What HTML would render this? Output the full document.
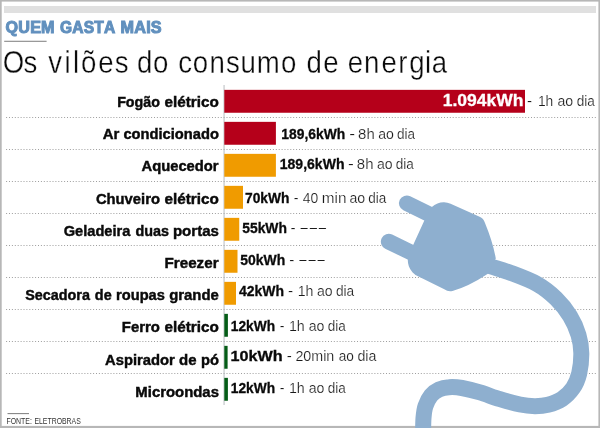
<!DOCTYPE html>
<html lang="pt-BR">
<head>
<meta charset="utf-8">
<title>Quem gasta mais - Os vilões do consumo de energia</title>
<style>
html,body{margin:0;padding:0;background:#fff;}
body{width:600px;height:428px;overflow:hidden;}
svg{display:block;}
text{font-family:"Liberation Sans",sans-serif;font-kerning:none;}
.kick{font-weight:bold;font-size:15.6px;letter-spacing:0.2px;fill:#6190be;stroke:#6190be;stroke-width:1px;}
.title{font-size:31.7px;fill:#0a0a0a;stroke:#fff;stroke-width:0.35px;}
.lab{font-weight:bold;font-size:15.5px;fill:#0a0a0a;stroke:#0a0a0a;stroke-width:0.45px;}
.val{font-weight:bold;font-size:14.1px;fill:#0a0a0a;stroke:#0a0a0a;stroke-width:0.3px;}
.big{font-weight:bold;font-size:16.5px;fill:#fff;stroke:#fff;stroke-width:0.3px;}
.rest{font-size:14.6px;fill:#1a1a1a;stroke:#fff;stroke-width:0.2px;}
.src{font-size:8.8px;fill:#333;}
</style>
</head>
<body>
<svg width="600" height="428" viewBox="0 0 600 428">
<rect x="0" y="0" width="600" height="428" fill="#b7b7b7"/>
<rect x="1.7" y="1.6" width="596.7" height="424.3" fill="#ffffff"/>
<rect x="4" y="6" width="592" height="7" fill="#e0e0e0"/>
<text class="kick" y="32.80"><tspan x="5.54" textLength="49.25" lengthAdjust="spacingAndGlyphs">QUEM</tspan> <tspan x="60.06" textLength="55.45" lengthAdjust="spacingAndGlyphs">GASTA</tspan> <tspan x="120.62" textLength="41.22" lengthAdjust="spacingAndGlyphs">MAIS</tspan></text>
<rect x="4.2" y="40.8" width="42.4" height="0.9" fill="#6e6e6e"/>
<text class="title" transform="translate(0,72.90) scale(0.87,1)" x="3.11 27.12 42.97 55.49 74.13 83.97 93.20 113.00 131.78 147.63 157.40 175.81 193.44 204.89 221.64 240.93 259.88 276.55 295.18 323.08 340.71 352.17 371.47 389.10 399.78 418.37 438.54 457.67 470.33 488.61 496.26" y="0">Os vilões do consumo de energia</text>
<line x1="6.1" y1="117.5" x2="596" y2="117.5" stroke="#9e9e9e" stroke-width="1" stroke-dasharray="1 1.9"/>
<line x1="6.1" y1="149.5" x2="596" y2="149.5" stroke="#9e9e9e" stroke-width="1" stroke-dasharray="1 1.9"/>
<line x1="6.1" y1="181.5" x2="596" y2="181.5" stroke="#9e9e9e" stroke-width="1" stroke-dasharray="1 1.9"/>
<line x1="6.1" y1="213.5" x2="596" y2="213.5" stroke="#9e9e9e" stroke-width="1" stroke-dasharray="1 1.9"/>
<line x1="6.1" y1="245.5" x2="596" y2="245.5" stroke="#9e9e9e" stroke-width="1" stroke-dasharray="1 1.9"/>
<line x1="6.1" y1="277.5" x2="596" y2="277.5" stroke="#9e9e9e" stroke-width="1" stroke-dasharray="1 1.9"/>
<line x1="6.1" y1="309.5" x2="596" y2="309.5" stroke="#9e9e9e" stroke-width="1" stroke-dasharray="1 1.9"/>
<line x1="6.1" y1="341.5" x2="596" y2="341.5" stroke="#9e9e9e" stroke-width="1" stroke-dasharray="1 1.9"/>
<line x1="6.1" y1="373.5" x2="596" y2="373.5" stroke="#9e9e9e" stroke-width="1" stroke-dasharray="1 1.9"/>
<rect x="223.6" y="85" width="0.9" height="320" fill="#b0b3b8"/>
<rect x="224.3" y="89.85" width="300.70" height="22.9" fill="#b5001a"/>
<text class="lab" y="107.00"><tspan x="117.17" textLength="42.76" lengthAdjust="spacingAndGlyphs">Fogão</tspan> <tspan x="164.53" textLength="54.39" lengthAdjust="spacingAndGlyphs">elétrico</tspan></text>
<text class="big" y="106.20"><tspan x="442.65" textLength="80.89" lengthAdjust="spacingAndGlyphs">1.094kWh</tspan></text>
<text class="rest" y="106.20"><tspan x="527.03" textLength="5.05" lengthAdjust="spacingAndGlyphs">-</tspan> <tspan x="537.95" textLength="15.35" lengthAdjust="spacingAndGlyphs">1h</tspan> <tspan x="557.40" textLength="15.69" lengthAdjust="spacingAndGlyphs">ao</tspan> <tspan x="576.73" textLength="18.17" lengthAdjust="spacingAndGlyphs">dia</tspan></text>
<rect x="224.3" y="121.85" width="51.60" height="22.9" fill="#b5001a"/>
<text class="lab" y="139.00"><tspan x="102.65" textLength="16.65" lengthAdjust="spacingAndGlyphs">Ar</tspan> <tspan x="123.45" textLength="95.45" lengthAdjust="spacingAndGlyphs">condicionado</tspan></text>
<text class="val" y="138.75"><tspan x="281.28" textLength="63.93" lengthAdjust="spacingAndGlyphs">189,6kWh</tspan></text>
<text class="rest" y="138.75"><tspan x="349.23" textLength="5.80" lengthAdjust="spacingAndGlyphs">-</tspan> <tspan x="358.10" textLength="16.62" lengthAdjust="spacingAndGlyphs">8h</tspan> <tspan x="378.15" textLength="15.69" lengthAdjust="spacingAndGlyphs">ao</tspan> <tspan x="396.93" textLength="18.07" lengthAdjust="spacingAndGlyphs">dia</tspan></text>
<rect x="224.3" y="153.85" width="51.60" height="22.9" fill="#f09b00"/>
<text class="lab" y="171.00"><tspan x="141.56" textLength="76.99" lengthAdjust="spacingAndGlyphs">Aquecedor</tspan></text>
<text class="val" y="168.75"><tspan x="279.77" textLength="64.70" lengthAdjust="spacingAndGlyphs">189,6kWh</tspan></text>
<text class="rest" y="168.75"><tspan x="347.98" textLength="5.80" lengthAdjust="spacingAndGlyphs">-</tspan> <tspan x="356.85" textLength="16.62" lengthAdjust="spacingAndGlyphs">8h</tspan> <tspan x="376.90" textLength="15.69" lengthAdjust="spacingAndGlyphs">ao</tspan> <tspan x="395.68" textLength="18.07" lengthAdjust="spacingAndGlyphs">dia</tspan></text>
<rect x="224.3" y="185.85" width="18.70" height="22.9" fill="#f09b00"/>
<text class="lab" y="204.00"><tspan x="95.92" textLength="64.03" lengthAdjust="spacingAndGlyphs">Chuveiro</tspan> <tspan x="164.53" textLength="54.39" lengthAdjust="spacingAndGlyphs">elétrico</tspan></text>
<text class="val" y="202.75"><tspan x="245.06" textLength="44.40" lengthAdjust="spacingAndGlyphs">70kWh</tspan></text>
<text class="rest" y="202.75"><tspan x="293.86" textLength="4.77" lengthAdjust="spacingAndGlyphs">-</tspan> <tspan x="302.68" textLength="15.46" lengthAdjust="spacingAndGlyphs">40</tspan> <tspan x="321.79" textLength="24.61" lengthAdjust="spacingAndGlyphs">min</tspan> <tspan x="349.40" textLength="15.69" lengthAdjust="spacingAndGlyphs">ao</tspan> <tspan x="368.18" textLength="18.07" lengthAdjust="spacingAndGlyphs">dia</tspan></text>
<rect x="224.3" y="217.85" width="14.95" height="22.9" fill="#f09b00"/>
<text class="lab" y="236.00"><tspan x="63.73" textLength="66.66" lengthAdjust="spacingAndGlyphs">Geladeira</tspan> <tspan x="135.54" textLength="33.53" lengthAdjust="spacingAndGlyphs">duas</tspan> <tspan x="172.93" textLength="46.01" lengthAdjust="spacingAndGlyphs">portas</tspan></text>
<text class="val" y="232.75"><tspan x="242.22" textLength="44.74" lengthAdjust="spacingAndGlyphs">55kWh</tspan></text>
<text class="rest" y="232.75"><tspan x="290.57" textLength="5.12" lengthAdjust="spacingAndGlyphs">-</tspan></text>
<text class="rest" transform="translate(0,232.15) scale(0.9,1)" x="333.89 344.11 354.22" y="0">–––</text>
<rect x="224.3" y="249.85" width="13.20" height="22.9" fill="#f09b00"/>
<text class="lab" y="268.00"><tspan x="164.51" textLength="54.05" lengthAdjust="spacingAndGlyphs">Freezer</tspan></text>
<text class="val" y="265.00"><tspan x="240.22" textLength="45.00" lengthAdjust="spacingAndGlyphs">50kWh</tspan></text>
<text class="rest" y="265.00"><tspan x="289.32" textLength="5.12" lengthAdjust="spacingAndGlyphs">-</tspan></text>
<text class="rest" transform="translate(0,264.40) scale(0.9,1)" x="332.44 342.67 352.78" y="0">–––</text>
<rect x="224.3" y="281.85" width="11.70" height="22.9" fill="#f09b00"/>
<text class="lab" y="300.00"><tspan x="25.21" textLength="64.67" lengthAdjust="spacingAndGlyphs">Secadora</tspan> <tspan x="94.83" textLength="16.83" lengthAdjust="spacingAndGlyphs">de</tspan> <tspan x="116.06" textLength="48.82" lengthAdjust="spacingAndGlyphs">roupas</tspan> <tspan x="169.21" textLength="49.62" lengthAdjust="spacingAndGlyphs">grande</tspan></text>
<text class="val" y="295.90"><tspan x="238.94" textLength="45.03" lengthAdjust="spacingAndGlyphs">42kWh</tspan></text>
<text class="rest" y="295.90"><tspan x="288.07" textLength="5.12" lengthAdjust="spacingAndGlyphs">-</tspan> <tspan x="297.67" textLength="15.75" lengthAdjust="spacingAndGlyphs">1h</tspan> <tspan x="316.90" textLength="15.69" lengthAdjust="spacingAndGlyphs">ao</tspan> <tspan x="335.92" textLength="18.28" lengthAdjust="spacingAndGlyphs">dia</tspan></text>
<rect x="224.3" y="313.85" width="3.60" height="22.9" fill="#055c17"/>
<text class="lab" y="332.00"><tspan x="121.83" textLength="38.03" lengthAdjust="spacingAndGlyphs">Ferro</tspan> <tspan x="164.53" textLength="54.39" lengthAdjust="spacingAndGlyphs">elétrico</tspan></text>
<text class="val" y="330.75"><tspan x="230.78" textLength="44.32" lengthAdjust="spacingAndGlyphs">12kWh</tspan></text>
<text class="rest" y="330.75"><tspan x="279.86" textLength="4.77" lengthAdjust="spacingAndGlyphs">-</tspan> <tspan x="288.92" textLength="15.81" lengthAdjust="spacingAndGlyphs">1h</tspan> <tspan x="308.70" textLength="15.69" lengthAdjust="spacingAndGlyphs">ao</tspan> <tspan x="327.73" textLength="18.07" lengthAdjust="spacingAndGlyphs">dia</tspan></text>
<rect x="224.3" y="345.85" width="3.30" height="22.9" fill="#055c17"/>
<text class="lab" y="365.00"><tspan x="105.06" textLength="69.74" lengthAdjust="spacingAndGlyphs">Aspirador</tspan> <tspan x="179.01" textLength="17.48" lengthAdjust="spacingAndGlyphs">de</tspan> <tspan x="200.96" textLength="17.94" lengthAdjust="spacingAndGlyphs">pó</tspan></text>
<text class="val" y="360.75"><tspan x="230.63" textLength="52.12" lengthAdjust="spacingAndGlyphs">10kWh</tspan></text>
<text class="rest" y="360.75"><tspan x="286.73" textLength="5.05" lengthAdjust="spacingAndGlyphs">-</tspan> <tspan x="295.38" textLength="38.95" lengthAdjust="spacingAndGlyphs">20min</tspan> <tspan x="338.72" textLength="15.15" lengthAdjust="spacingAndGlyphs">ao</tspan> <tspan x="357.40" textLength="19.00" lengthAdjust="spacingAndGlyphs">dia</tspan></text>
<rect x="224.3" y="377.85" width="3.60" height="22.9" fill="#055c17"/>
<text class="lab" y="397.00"><tspan x="135.33" textLength="83.61" lengthAdjust="spacingAndGlyphs">Microondas</tspan></text>
<text class="val" y="393.00"><tspan x="230.78" textLength="44.32" lengthAdjust="spacingAndGlyphs">12kWh</tspan></text>
<text class="rest" y="393.00"><tspan x="279.86" textLength="4.77" lengthAdjust="spacingAndGlyphs">-</tspan> <tspan x="288.92" textLength="15.81" lengthAdjust="spacingAndGlyphs">1h</tspan> <tspan x="308.70" textLength="15.69" lengthAdjust="spacingAndGlyphs">ao</tspan> <tspan x="327.73" textLength="18.07" lengthAdjust="spacingAndGlyphs">dia</tspan></text>
<path d="M476.0,261.5 C478.5,262.3 485.2,264.6 491.0,266.5 C496.8,268.4 503.3,270.1 511.0,273.0 C518.7,275.9 529.5,279.8 537.0,284.0 C544.5,288.2 550.5,293.2 556.0,298.5 C561.5,303.8 566.2,309.9 570.0,316.0 C573.8,322.1 576.6,328.8 578.5,335.0 C580.4,341.2 581.2,346.6 581.3,353.0 C581.4,359.4 580.6,367.7 579.2,373.5 C577.8,379.3 575.9,383.8 573.0,388.0 C570.1,392.2 566.2,396.2 562.0,399.0 C557.8,401.8 552.5,403.6 548.0,404.8 C543.5,406.0 539.7,406.2 535.0,406.2 C530.3,406.1 525.8,405.7 520.0,404.5 C514.2,403.3 506.7,401.2 500.0,399.2 C493.3,397.2 486.3,394.3 480.0,392.4 C473.7,390.5 467.2,388.9 462.0,388.0 C456.8,387.1 452.8,386.9 449.0,387.2 C445.2,387.4 442.0,388.1 439.0,389.5 C436.0,390.9 433.2,392.8 431.0,395.5 C428.8,398.2 426.8,402.2 425.5,406.0 C424.2,409.8 423.9,413.0 423.5,418.0 C423.1,423.0 423.1,433.0 423.0,436.0" fill="none" stroke="#8eafcf" stroke-width="16" stroke-linecap="butt" stroke-linejoin="round"/>
<line x1="406.8" y1="203.3" x2="433.8" y2="216.5" stroke="#8eafcf" stroke-width="15.7" stroke-linecap="round"/>
<line x1="388.7" y1="241.6" x2="415.7" y2="254.8" stroke="#8eafcf" stroke-width="15.7" stroke-linecap="round"/>
<path d="M428.0,212.4 A17,17 0 0 1 450.6,203.8 L479.6,216.7 Q483.6,218.5 484.8,222.5 Q493.2,243 495.8,258.6 L487.5,274.0 Q468.5,286.5 452.5,291.0 Q448.2,292.2 444.3,289.2 L418.0,276.2 A17.4,17.4 0 0 1 409.6,252.7 Z" fill="#8eafcf"/>
<rect x="7.5" y="413.2" width="21.5" height="0.9" fill="#6e6e6e"/>
<text class="src" y="423.50"><tspan x="6.43" textLength="25.45" lengthAdjust="spacingAndGlyphs">FONTE:</tspan> <tspan x="34.43" textLength="46.38" lengthAdjust="spacingAndGlyphs">ELETROBRAS</tspan></text>
</svg>
</body>
</html>
